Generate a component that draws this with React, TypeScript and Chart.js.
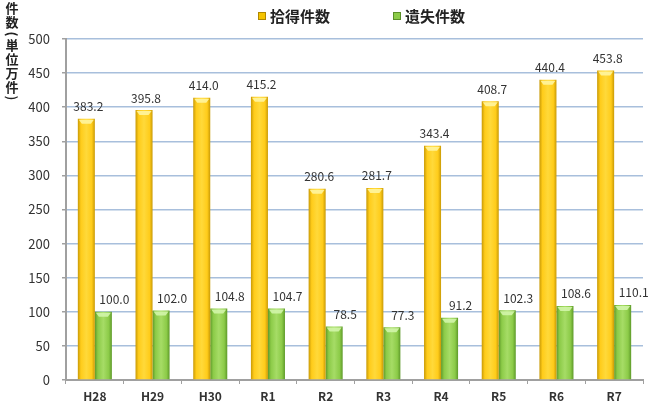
import React, { useEffect, useRef } from "react";
import { Chart, registerables } from "chart.js";

Chart.register(...registerables);

const categories = ["H28", "H29", "H30", "R1", "R2", "R3", "R4", "R5", "R6", "R7"];
const foundCounts = [383.2, 395.8, 414.0, 415.2, 280.6, 281.7, 343.4, 408.7, 440.4, 453.8];
const lostCounts = [100.0, 102.0, 104.8, 104.7, 78.5, 77.3, 91.2, 102.3, 108.6, 110.1];
const seriesNames = ["拾得件数", "遺失件数"];
const yTitleChars = ["件", "数", "(", "単", "位", "万", "件", ")"];
const yTicks = [0, 50, 100, 150, 200, 250, 300, 350, 400, 450, 500];

const FONT = "'Noto Sans CJK JP', 'Noto Sans', sans-serif";

const palettes = [
  { dark: "#C99A06", light: "#FFD93A", mid: "#FFCC1A", box: "#F5C400", border: "#B08800" },
  { dark: "#5E9A2A", light: "#A6DC66", mid: "#8CCB48", box: "#8CCB48", border: "#5A8F28" },
];

function barGradient(ctx: any, dsIndex: number) {
  const chart = ctx.chart;
  const xs = chart.scales?.x;
  const pal = palettes[dsIndex];
  if (!xs || ctx.dataIndex === undefined || !chart.chartArea) return pal.mid;
  const center = xs.getPixelForValue(ctx.dataIndex);
  const half = 8.5;
  const bc = dsIndex === 0 ? center - half : center + half;
  const g = chart.ctx.createLinearGradient(bc - half, 0, bc + half, 0);
  g.addColorStop(0, pal.dark);
  g.addColorStop(0.18, pal.mid);
  g.addColorStop(0.5, pal.light);
  g.addColorStop(0.82, pal.mid);
  g.addColorStop(1, pal.dark);
  return g;
}

const extrasPlugin = {
  id: "extras",
  afterDatasetsDraw(chart: any) {
    const c = chart.ctx;
    c.save();
    chart.data.datasets.forEach((ds: any, di: number) => {
      const meta = chart.getDatasetMeta(di);
      meta.data.forEach((bar: any) => {
        const w = bar.width;
        c.fillStyle = di === 0 ? "rgba(255,245,160,0.9)" : "rgba(210,245,170,0.9)";
        c.beginPath();
        c.moveTo(bar.x - w / 2 + 1, bar.y + 1);
        c.lineTo(bar.x + w / 2 - 1, bar.y + 1);
        c.lineTo(bar.x + w / 2 - 4, bar.y + 5);
        c.lineTo(bar.x - w / 2 + 4, bar.y + 5);
        c.closePath();
        c.fill();
      });
    });
    c.font = `12px ${FONT}`;
    c.fillStyle = "#333333";
    c.textAlign = "center";
    c.textBaseline = "middle";
    chart.data.datasets.forEach((ds: any, di: number) => {
      const meta = chart.getDatasetMeta(di);
      meta.data.forEach((bar: any, i: number) => {
        const v = ds.data[i] as number;
        const dx = di === 0 ? 2 : 11;
        c.fillText(v.toFixed(1), bar.x + dx, bar.y - 12);
      });
    });
    c.restore();
  },
  afterDraw(chart: any) {
    const c = chart.ctx;
    c.save();
    c.font = `bold 13px ${FONT}`;
    c.fillStyle = "#222222";
    c.textAlign = "center";
    c.textBaseline = "middle";
    const ys = [8, 22, 34, 45, 59, 73, 87, 98];
    yTitleChars.forEach((ch, i) => {
      if (ch === "(" || ch === ")") {
        c.save();
        c.translate(12, ys[i]);
        c.rotate(Math.PI / 2);
        c.fillText(ch, 0, 0);
        c.restore();
      } else {
        c.fillText(ch, 12, ys[i]);
      }
    });
    const items = [
      { x: 258, name: seriesNames[0], pal: palettes[0] },
      { x: 393, name: seriesNames[1], pal: palettes[1] },
    ];
    items.forEach((it) => {
      c.fillStyle = it.pal.box;
      c.fillRect(it.x, 12, 8, 8);
      c.strokeStyle = it.pal.border;
      c.lineWidth = 1;
      c.strokeRect(it.x + 0.5, 12.5, 7, 7);
      c.font = `bold 15px ${FONT}`;
      c.fillStyle = "#222222";
      c.textAlign = "left";
      c.textBaseline = "middle";
      c.fillText(it.name, it.x + 12, 16);
    });
    c.restore();
  },
};

export default function App() {
  const canvasRef = useRef<HTMLCanvasElement | null>(null);

  useEffect(() => {
    document.body.style.margin = "0";
    const canvas = canvasRef.current;
    if (!canvas) return;
    const chart = new Chart(canvas, {
      type: "bar",
      data: {
        labels: categories,
        datasets: [
          {
            label: seriesNames[0],
            data: foundCounts,
            backgroundColor: (ctx: any) => barGradient(ctx, 0),
            borderWidth: 0,
            barPercentage: 1.0,
            categoryPercentage: 0.59,
          },
          {
            label: seriesNames[1],
            data: lostCounts,
            backgroundColor: (ctx: any) => barGradient(ctx, 1),
            borderWidth: 0,
            barPercentage: 1.0,
            categoryPercentage: 0.59,
          },
        ],
      },
      options: {
        responsive: false,
        animation: false,
        devicePixelRatio: 1,
        layout: { padding: { top: 39, right: 7, left: 0, bottom: 0 } },
        plugins: {
          legend: { display: false },
          tooltip: { enabled: false },
        },
        scales: {
          x: {
            offset: true,
            grid: {
              offset: true,
              drawOnChartArea: false,
              drawTicks: true,
              tickLength: 4,
              color: "#A0A0A0",
            },
            border: { color: "#A0A0A0", width: 2 },
            ticks: {
              color: "#333333",
              font: { family: FONT, size: 12, weight: "bold" },
              padding: 5,
            },
            afterFit: (scale: any) => {
              scale.height = 23;
            },
          },
          y: {
            min: 0,
            max: 500,
            afterBuildTicks: (scale: any) => {
              scale.ticks = yTicks.map((v) => ({ value: v }));
            },
            grid: {
              color: "#A8BFDC",
              lineWidth: 1.5,
              drawTicks: true,
              tickLength: 4,
              tickColor: "#A0A0A0",
            },
            border: { color: "#A0A0A0", width: 2 },
            ticks: {
              color: "#333333",
              font: { family: FONT, size: 13 },
              padding: 12,
            },
            afterFit: (scale: any) => {
              scale.width = 66;
            },
          },
        },
      },
      plugins: [extrasPlugin],
    });
    return () => chart.destroy();
  }, []);

  return (
    <div style={{ width: 650, height: 403, background: "#ffffff" }}>
      <canvas ref={canvasRef} width={650} height={403} style={{ display: "block" }} />
    </div>
  );
}
